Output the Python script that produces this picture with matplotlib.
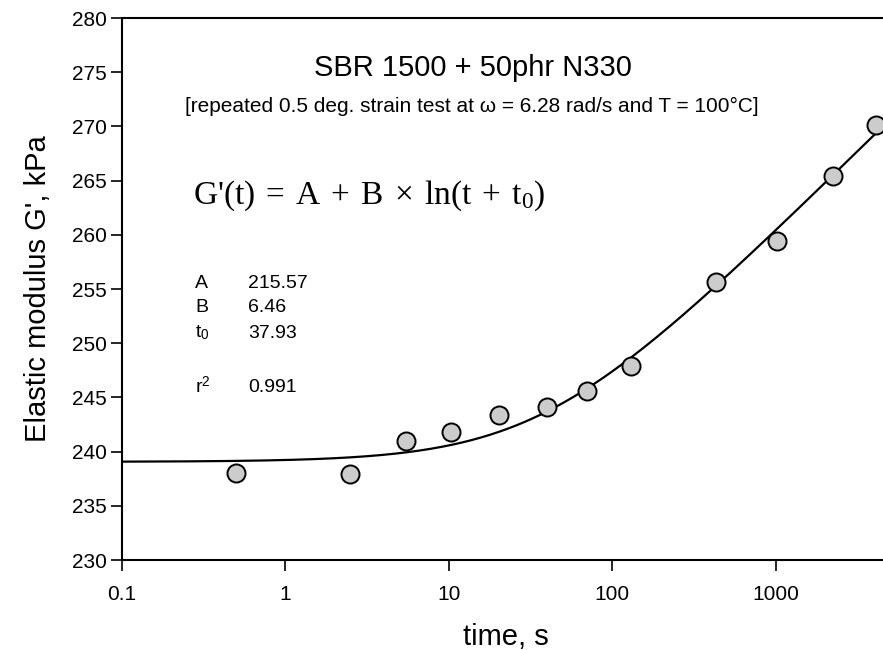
import numpy as np
import matplotlib
matplotlib.use('Agg')
import matplotlib.pyplot as plt

plt.rcParams['font.family'] = ['Liberation Sans', 'DejaVu Sans']
plt.rcParams['mathtext.fontset'] = 'custom'
plt.rcParams['mathtext.rm'] = 'Liberation Serif'
plt.rcParams['mathtext.sf'] = 'Liberation Sans'
plt.rcParams['mathtext.it'] = 'Liberation Serif:italic'

# ── data ────────────────────────────────────────────────────────────────────
time_s = [0.5, 2.5, 5.5, 10.4, 20.4, 40, 70, 130, 430, 1015, 2250, 4100]
g_mod = [238.0, 237.9, 241.0, 241.8, 243.4, 244.1, 245.6, 247.9, 255.6,
         259.4, 265.4, 270.1]

# fit parameters printed on the chart
A, B, T0 = 215.57, 6.46, 37.93
R2 = 0.991
param_labels = ['A', 'B', 't$_\\mathsf{0}$', 'r$^\\mathsf{2}$']
param_values = ['215.57', '6.46', '37.93', '0.991']

XMAX = 4530
yticks = list(range(230, 281, 5))
xticks = [0.1, 1, 10, 100, 1000]
xticklabels = ['0.1', '1', '10', '100', '1000']

# ── figure ──────────────────────────────────────────────────────────────────
W, H = 883, 650
fig = plt.figure(figsize=(W / 100, H / 100), dpi=100)
ax = fig.add_axes([121.7 / W, 1 - 560 / H, 1 - 121.7 / W, (560 - 18) / H])

tt = np.logspace(np.log10(0.1), np.log10(XMAX), 400)
ax.plot(tt, A + B * np.log(tt + T0), color='black', lw=1.6, zorder=2)
ax.plot(time_s, g_mod, 'o', ms=13, mfc='#cccccc', mec='black', mew=1.4,
        zorder=3, clip_on=False)

ax.set_xscale('log')
ax.set_xlim(0.1, XMAX)
ax.set_ylim(230, 280)
ax.set_xticks(xticks)
ax.set_xticklabels(xticklabels)
ax.xaxis.set_minor_locator(matplotlib.ticker.NullLocator())
ax.set_yticks(yticks)
ax.tick_params(axis='both', direction='out', length=8, width=1.2,
               labelsize=15, color='black')
ax.tick_params(axis='x', pad=10)
ax.tick_params(axis='y', pad=3)
ax.spines['right'].set_visible(False)
for s in ['left', 'bottom', 'top']:
    ax.spines[s].set_linewidth(1.5)

# ── texts ───────────────────────────────────────────────────────────────────
fig.text(473 / W, 1 - 68 / H, 'SBR 1500 + 50phr N330', fontsize=21,
         ha='center', va='center')
fig.text(472 / W, 1 - 106 / H,
         '[repeated 0.5 deg. strain test at \u03c9 = 6.28 rad/s and T = 100\u00b0C]',
         fontsize=15, ha='center', va='center')
sp = '\u2004'
eq = ("G'(t)" + sp + '=' + sp + 'A' + sp + '+' + sp + 'B' + sp + '\u00d7' + sp
      + 'ln(t' + sp + '+' + sp + 't$_\\mathrm{0}$)')
fig.text(193 / W, 1 - 196 / H, eq,
         family=['Liberation Serif', 'DejaVu Serif'], fontsize=24,
         ha='left', va='center')

rows_y = [283, 307, 333, 387]
for lab, val, y in zip(param_labels, param_values, rows_y):
    fig.text(195 / W, 1 - y / H, lab, fontsize=14, ha='left', va='center')
    fig.text(248 / W, 1 - y / H, val, fontsize=14, ha='left', va='center')

fig.text(38 / W, 1 - 289 / H, "Elastic modulus G', kPa", fontsize=21,
         rotation=90, ha='center', va='center')
fig.text(506 / W, 1 - 645 / H, 'time, s', fontsize=21, ha='center',
         va='baseline')

fig.savefig('out.png', dpi=100)
